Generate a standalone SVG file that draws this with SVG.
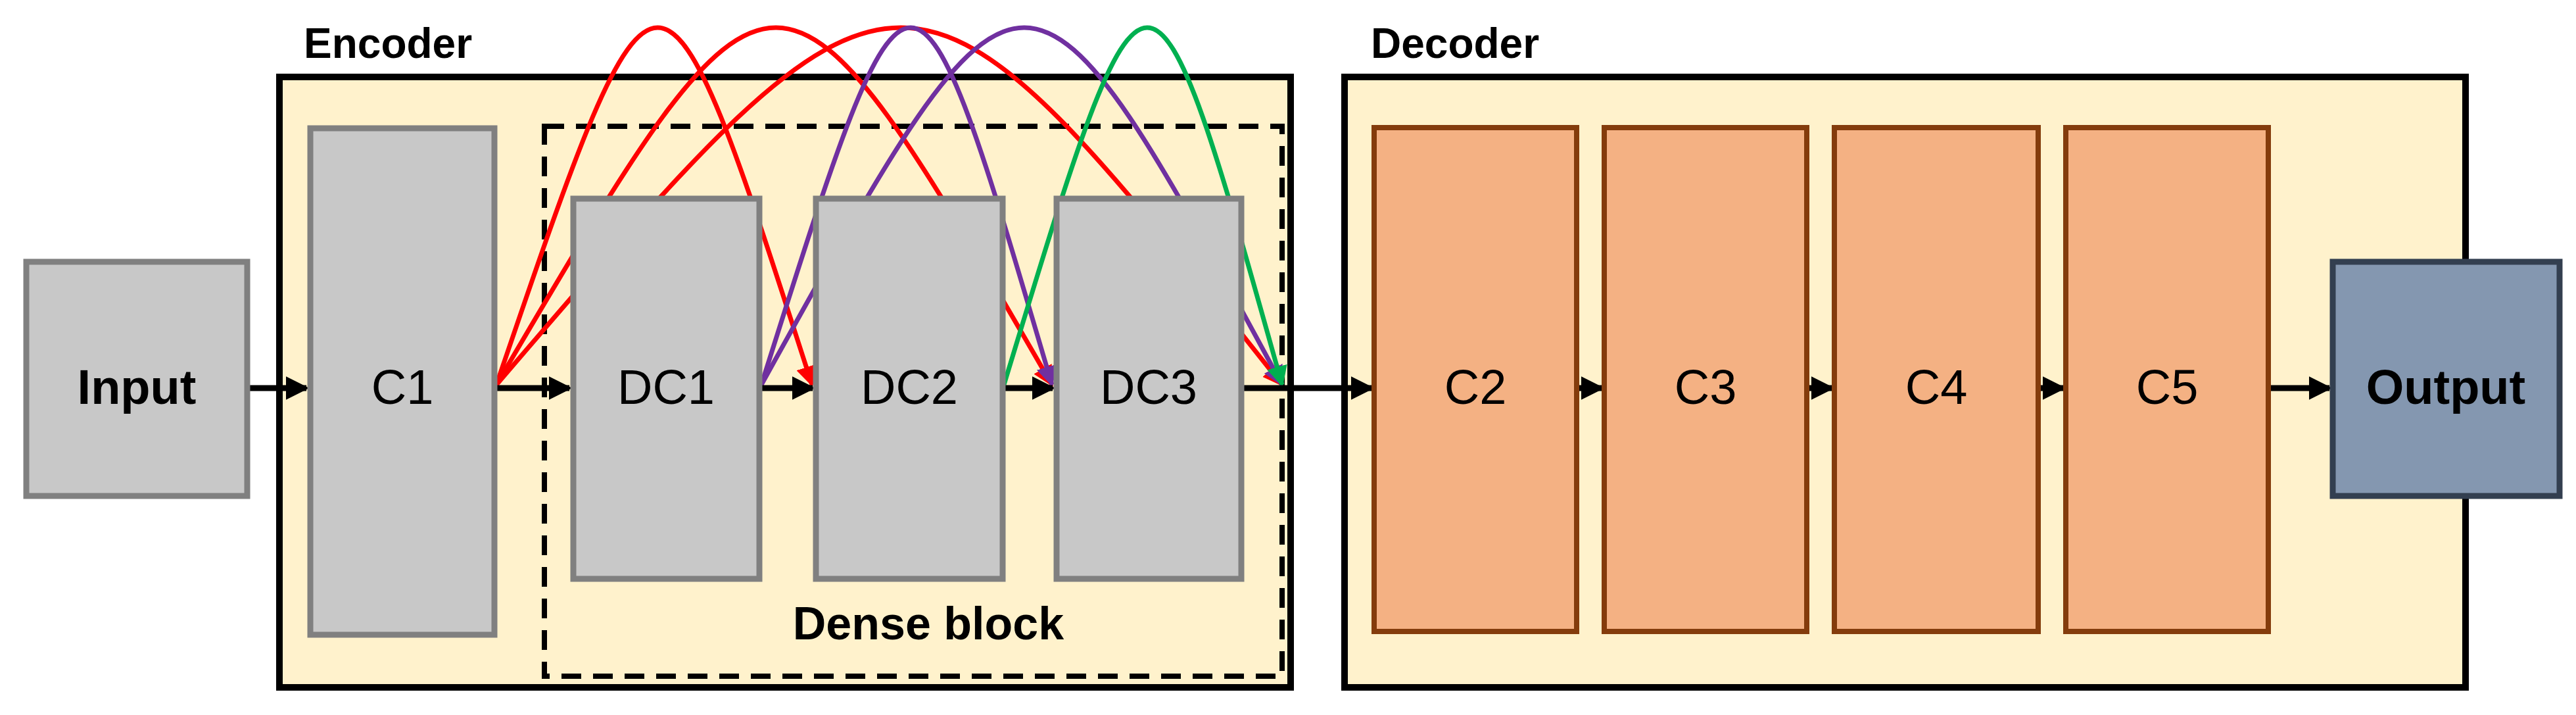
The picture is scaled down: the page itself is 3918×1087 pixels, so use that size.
<svg xmlns="http://www.w3.org/2000/svg" width="3918" height="1087" viewBox="0 0 3918 1087">
<style>
.grp{fill:#FFF2CC;stroke:#000;stroke-width:10}
.gray{fill:#C8C8C8;stroke:#808080;stroke-width:9}
.org{fill:#F4B183;stroke:#843C0C;stroke-width:8}
.out{fill:#8497B0;stroke:#333F50;stroke-width:9}
.t{font-family:"Liberation Sans",Arial,sans-serif;font-size:74px;fill:#000;text-anchor:middle}
.b{font-weight:bold}
.main{stroke:#000;stroke-width:9;fill:none;marker-end:url(#ak)}
.cv{fill:none;stroke-width:7}
</style>
<defs>
<marker id="ak" markerWidth="4" markerHeight="4" refX="3.5" refY="2" orient="auto" markerUnits="strokeWidth"><path d="M0,0L4,2L0,4z" fill="#000"/></marker>
<marker id="ar" markerWidth="4.5" markerHeight="4.5" refX="4" refY="2.25" orient="auto" markerUnits="strokeWidth"><path d="M0,0L4.5,2.25L0,4.5z" fill="#FF0000"/></marker>
<marker id="ap" markerWidth="4.5" markerHeight="4.5" refX="4" refY="2.25" orient="auto" markerUnits="strokeWidth"><path d="M0,0L4.5,2.25L0,4.5z" fill="#7030A0"/></marker>
<marker id="ag" markerWidth="4.5" markerHeight="4.5" refX="4" refY="2.25" orient="auto" markerUnits="strokeWidth"><path d="M0,0L4.5,2.25L0,4.5z" fill="#00B050"/></marker>
</defs>
<g id="encoder"><rect class="grp" x="425" y="117" width="1538" height="928"/><text class="t b" x="462" y="88" style="font-size:64px;text-anchor:start">Encoder</text></g>
<g id="decoder"><rect class="grp" x="2045" y="117" width="1705" height="928"/><text class="t b" x="2085" y="88" style="font-size:64px;text-anchor:start">Decoder</text></g>
<g id="dense-block"><rect x="828" y="192" width="1122" height="836" fill="none" stroke="#000" stroke-width="8" stroke-dasharray="30,18"/><text class="t b" x="1412" y="972" style="font-size:70px">Dense block</text></g>
<g id="connectors">
<path class="cv" stroke="#FF0000" marker-end="url(#ar)" d="M755,585 C1002,-139 1002,-139 1235,585"/>
<path class="cv" stroke="#FF0000" marker-end="url(#ar)" d="M755,585 C1181,-139 1181,-139 1600,585"/>
<path class="cv" stroke="#FF0000" marker-end="url(#ar)" d="M755,585 C1376,-139 1376,-139 1950,585"/>
<path class="cv" stroke="#7030A0" marker-end="url(#ap)" d="M1158,585 C1387,-139 1387,-139 1600,585"/>
<path class="cv" stroke="#7030A0" marker-end="url(#ap)" d="M1158,585 C1559,-139 1559,-139 1950,585"/>
<path class="cv" stroke="#00B050" marker-end="url(#ag)" d="M1527,585 C1747,-139 1747,-139 1950,585"/>
<line class="main" x1="378" y1="590" x2="466" y2="590"/>
<line class="main" x1="752" y1="590" x2="866" y2="590"/>
<line class="main" x1="1155" y1="590" x2="1236" y2="590"/>
<line class="main" x1="1525" y1="590" x2="1601" y2="590"/>
<line class="main" x1="1888" y1="590" x2="2086" y2="590"/>
<line class="main" x1="2398" y1="590" x2="2436" y2="590"/>
<line class="main" x1="2748" y1="590" x2="2786" y2="590"/>
<line class="main" x1="3100" y1="590" x2="3138" y2="590"/>
<line class="main" x1="3450" y1="590" x2="3543" y2="590"/>
</g>
<g id="input"><rect class="gray" x="40" y="398" width="336" height="356"/><text class="t b" x="208" y="614">Input</text></g>
<g id="c1"><rect class="gray" x="472" y="195" width="280" height="770"/><text class="t" x="612" y="614">C1</text></g>
<g id="dc1"><rect class="gray" x="872" y="302" width="283" height="578"/><text class="t" x="1013" y="614">DC1</text></g>
<g id="dc2"><rect class="gray" x="1241" y="302" width="284" height="578"/><text class="t" x="1383" y="614">DC2</text></g>
<g id="dc3"><rect class="gray" x="1607" y="302" width="281" height="578"/><text class="t" x="1747" y="614">DC3</text></g>
<g id="c2"><rect class="org" x="2090" y="194" width="308" height="766"/><text class="t" x="2244" y="614">C2</text></g>
<g id="c3"><rect class="org" x="2440" y="194" width="308" height="766"/><text class="t" x="2594" y="614">C3</text></g>
<g id="c4"><rect class="org" x="2790" y="194" width="310" height="766"/><text class="t" x="2945" y="614">C4</text></g>
<g id="c5"><rect class="org" x="3142" y="194" width="308" height="766"/><text class="t" x="3296" y="614">C5</text></g>
<g id="output"><rect class="out" x="3548" y="398" width="345" height="356"/><text class="t b" x="3720" y="614">Output</text></g>
</svg>
